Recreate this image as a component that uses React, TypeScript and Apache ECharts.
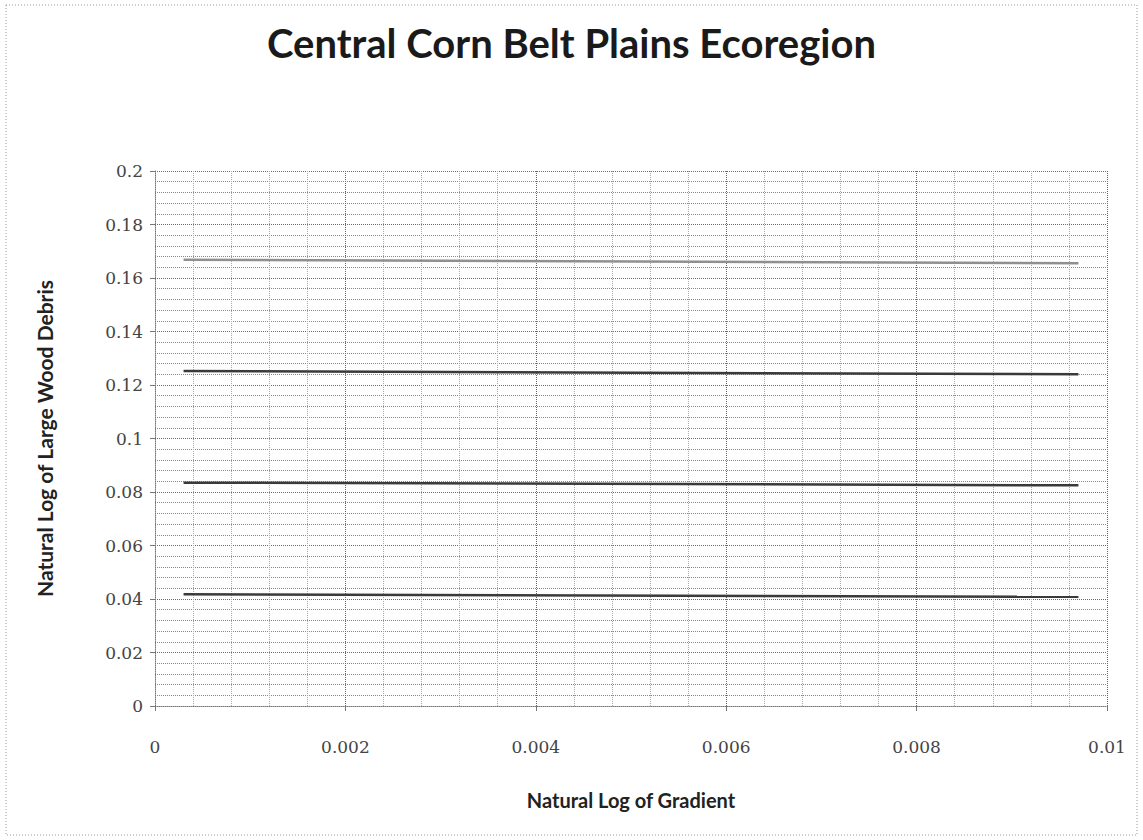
import React, { useEffect, useRef } from "react";
import * as echarts from "echarts";

const xTicks = [0, 0.002, 0.004, 0.006, 0.008, 0.01];
const yTicks = [0, 0.02, 0.04, 0.06, 0.08, 0.1, 0.12, 0.14, 0.16, 0.18, 0.2];
const lineNames = ["Line 1", "Line 2", "Line 3", "Line 4"];
const lineX = [0.0003, 0.0097];
const line1 = [0.1668, 0.1655];
const line2 = [0.1252, 0.124];
const line3 = [0.0835, 0.0825];
const line4 = [0.0418, 0.0408];
const lineColors = ["#8f8f8f", "#3a3a3a", "#3a3a3a", "#3a3a3a"];

export default function App() {
  const ref = useRef<HTMLDivElement>(null);
  useEffect(() => {
    document.body.style.margin = "0";
    const chart = echarts.init(ref.current!, undefined, { renderer: "svg" });
    const lines = [line1, line2, line3, line4];
    const fmt = (v: number) => String(+v.toFixed(4));
    chart.setOption({
      animation: false,
      backgroundColor: "#ffffff",
      title: {
        text: "Central Corn Belt Plains Ecoregion",
        left: "center",
        top: 18,
        textStyle: { fontFamily: "Lato", fontWeight: "bold", fontSize: 40, color: "#1a1a1a" },
      },
      graphic: [
        {
          type: "rect",
          shape: { x: 6, y: 5, width: 1131, height: 830 },
          style: { fill: "none", stroke: "#9a9a9a", lineWidth: 1, lineDash: [1, 2] },
          silent: true,
        },
      ],
      grid: { left: 155, right: 36, top: 171, bottom: 134 },
      xAxis: {
        type: "value",
        min: xTicks[0],
        max: xTicks[xTicks.length - 1],
        interval: 0.002,
        name: "Natural Log of Gradient",
        nameLocation: "middle",
        nameGap: 84,
        nameTextStyle: { fontFamily: "Lato", fontWeight: "bold", fontSize: 20, color: "#222" },
        axisLine: { show: true, lineStyle: { color: "#777", type: "dotted" } },
        axisTick: { show: true, length: 5, lineStyle: { color: "#777" } },
        axisLabel: { formatter: fmt, margin: 32, fontFamily: "DejaVu Serif", fontSize: 17, color: "#444" },
        splitLine: { show: true, lineStyle: { color: "#666", type: "dotted" } },
        minorTick: { show: false, splitNumber: 5 },
        minorSplitLine: { show: true, lineStyle: { color: "#aaa", type: "dotted" } },
      },
      yAxis: {
        type: "value",
        min: yTicks[0],
        max: yTicks[yTicks.length - 1],
        interval: 0.02,
        name: "Natural Log of Large Wood Debris",
        nameLocation: "middle",
        nameGap: 100,
        nameTextStyle: { fontFamily: "Lato", fontWeight: "bold", fontSize: 21, color: "#222" },
        axisLine: { show: true, lineStyle: { color: "#777", type: "dotted" } },
        axisTick: { show: true, length: 5, lineStyle: { color: "#777" } },
        axisLabel: { formatter: fmt, margin: 12, fontFamily: "DejaVu Serif", fontSize: 17, color: "#444" },
        splitLine: { show: true, lineStyle: { color: "#6a6a6a", type: "dotted" } },
        minorTick: { show: false, splitNumber: 5 },
        minorSplitLine: { show: true, lineStyle: { color: "#888", type: "dotted" } },
      },
      series: lines.map((ys, i) => ({
        name: lineNames[i],
        type: "line",
        data: lineX.map((x, j) => [x, ys[j]]),
        symbol: "none",
        lineStyle: { color: lineColors[i], width: 2.5 },
      })),
    });
    return () => chart.dispose();
  }, []);
  return <div ref={ref} style={{ width: 1143, height: 840 }} />;
}
